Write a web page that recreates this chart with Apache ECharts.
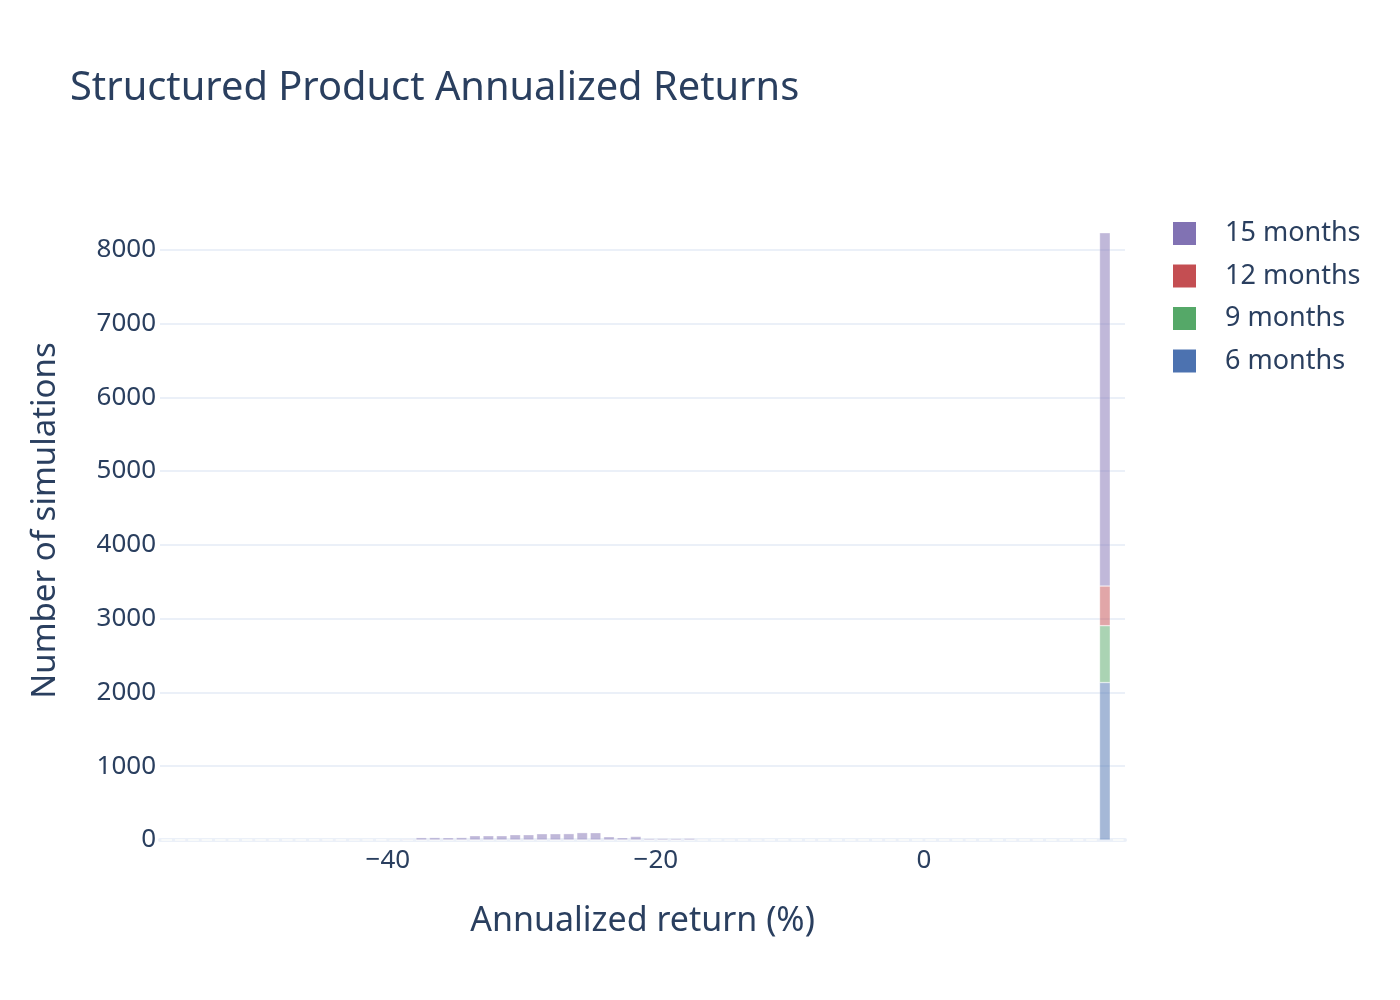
<!DOCTYPE html>
<html>
<head>
<meta charset="utf-8">
<title>Structured Product Annualized Returns</title>
<script src="https://cdn.jsdelivr.net/npm/echarts@6/dist/echarts.min.js"></script>
<style>
    html, body { margin: 0; padding: 0; background: #fff; }
    #main { width: 1400px; height: 1000px; }
</style>
</head>
<body>
<div id="main"></div>
<script>
// left edge of each 1% histogram bin (last bin, 14, is empty)
var binEdges = [
    -57, -56, -55, -54, -53, -52, -51, -50, -49, -48,
    -47, -46, -45, -44, -43, -42, -41, -40, -39, -38,
    -37, -36, -35, -34, -33, -32, -31, -30, -29, -28,
    -27, -26, -25, -24, -23, -22, -21, -20, -19, -18,
    -17, -16, -15, -14, -13, -12, -11, -10, -9, -8,
    -7, -6, -5, -4, -3, -2, -1, 0, 1, 2,
    3, 4, 5, 6, 7, 8, 9, 10, 11, 12,
    13, 14
];
var binWidth = 1;

// counts per bin, one list per product length
var months6 = [
    0, 0, 0, 0, 0, 0, 0, 0, 0, 0,
    0, 0, 0, 0, 0, 0, 0, 0, 0, 0,
    0, 0, 0, 0, 0, 0, 0, 0, 0, 0,
    0, 0, 0, 0, 0, 0, 0, 0, 0, 0,
    0, 0, 0, 0, 0, 0, 0, 0, 0, 0,
    0, 0, 0, 0, 0, 0, 0, 0, 0, 0,
    0, 0, 0, 0, 0, 0, 0, 0, 0, 0,
    2134, 0
];
var months9 = [
    0, 0, 0, 0, 0, 0, 0, 0, 0, 0,
    0, 0, 0, 0, 0, 0, 0, 0, 0, 0,
    0, 0, 0, 0, 0, 0, 0, 0, 0, 0,
    0, 0, 0, 0, 0, 0, 0, 0, 0, 0,
    0, 0, 0, 0, 0, 0, 0, 0, 0, 0,
    0, 0, 0, 0, 0, 0, 0, 0, 0, 0,
    0, 0, 0, 0, 0, 0, 0, 0, 0, 0,
    770, 0
];
var months12 = [
    0, 0, 0, 0, 0, 0, 0, 0, 0, 0,
    0, 0, 0, 0, 0, 0, 0, 0, 0, 0,
    0, 0, 0, 0, 0, 0, 0, 0, 0, 0,
    0, 0, 0, 0, 0, 0, 0, 0, 0, 0,
    0, 0, 0, 0, 0, 0, 0, 0, 0, 0,
    0, 0, 0, 0, 0, 0, 0, 0, 0, 0,
    0, 0, 0, 0, 0, 0, 0, 0, 0, 0,
    538, 0
];
var months15 = [
    0, 1, 0, 0, 0, 1, 0, 1, 1, 2,
    2, 3, 3, 4, 10, 9, 5, 11, 12, 32,
    33, 31, 33, 58, 58, 58, 72, 72, 85, 85,
    86, 100, 99, 45, 31, 48, 20, 21, 20, 22,
    10, 9, 10, 9, 10, 4, 8, 3, 2, 1,
    2, 1, 1, 2, 1, 1, 0, 1, 1, 0,
    1, 1, 0, 1, 1, 1, 0, 1, 1, 1,
    4787, 0
];

// x tick labels of the return axis
var xTicks = [-40, -20, 0];

var seriesNames = ['6 months', '9 months', '12 months', '15 months'];
var seriesColors = ['#4C72B0', '#55A868', '#C44E52', '#8172B3'];
var seriesCounts = [months6, months9, months12, months15];

var textColor = '#2a3f5f';
var gridColor = '#EBF0F8';
var font = 'Noto Sans';

var myChart = echarts.init(document.getElementById('main'));

// 每个区间一个类目, 类目名取区间中点
let binCenters = [];
for (let j = 0; j < binEdges.length; j++) {
    binCenters.push(String(binEdges[j] + binWidth / 2));
}

let series = [];
for (let i = 0; i < seriesNames.length; i++) {
    series.push({
        name: seriesNames[i],
        type: 'bar',
        stack: 'total',
        xAxisIndex: 0,
        barCategoryGap: '20%',
        color: seriesColors[i],
        itemStyle: {
            opacity: 0.5,
            borderColor: '#fff',
            borderWidth: 0.6
        },
        emphasis: {disabled: true},
        data: seriesCounts[i]
    });
}

myChart.setOption({
    animation: false,
    textStyle: {fontFamily: font, color: textColor},
    title: {
        text: 'Structured Product Annualized Returns',
        left: 65,
        top: 64,
        textStyle: {fontFamily: font, fontSize: 39.8, fontWeight: 'normal', color: textColor}
    },
    legend: {
        data: ['15 months', '12 months', '9 months', '6 months'],
        orient: 'vertical',
        left: 1168,
        top: 215,
        icon: 'rect',
        itemWidth: 23,
        itemHeight: 23,
        itemGap: 15.5,
        itemStyle: {opacity: 1, borderWidth: 0},
        textStyle: {
            fontFamily: font,
            fontSize: 27,
            color: textColor,
            padding: [0, 0, 0, 24]
        }
    },
    grid: {
        left: 160,
        right: 275,
        top: 201,
        bottom: 160,
        containLabel: false
    },
    xAxis: [
        {
            // 柱子用的类目轴, 只画零线
            type: 'category',
            data: binCenters,
            boundaryGap: true,
            axisLine: {show: true, lineStyle: {color: gridColor, width: 4}},
            axisTick: {show: false},
            axisLabel: {show: false},
            splitLine: {show: false}
        },
        {
            // 显示刻度的数值轴
            type: 'value',
            position: 'bottom',
            min: binEdges[0],
            max: binEdges[binEdges.length - 1] + binWidth,
            splitNumber: 3,
            name: 'Annualized return (%)',
            nameLocation: 'middle',
            nameGap: 64,
            nameTextStyle: {fontFamily: font, fontSize: 34, color: textColor},
            axisLine: {show: false},
            axisTick: {show: false},
            splitLine: {show: false},
            axisLabel: {
                fontFamily: font,
                fontSize: 26,
                color: textColor,
                margin: 8,
                showMinLabel: false,
                showMaxLabel: false,
                formatter: function (v) {
                    if (xTicks.indexOf(v) < 0) return '';
                    return v < 0 ? '\u2212' + (-v) : String(v);
                }
            }
        }
    ],
    yAxis: {
        type: 'value',
        min: 0,
        max: 8660,
        interval: 1000,
        name: 'Number of simulations',
        nameLocation: 'middle',
        nameRotate: 90,
        nameGap: 98,
        nameTextStyle: {fontFamily: font, fontSize: 33, color: textColor},
        axisLine: {show: false},
        axisTick: {show: false},
        splitLine: {show: true, showMaxLine: false, lineStyle: {color: gridColor, width: 2}},
        axisLabel: {
            fontFamily: font,
            fontSize: 26,
            color: textColor,
            margin: 4,
            showMaxLabel: false,
            formatter: function (v) {
                return String(v);
            }
        }
    },
    series: series
});
</script>
</body>
</html>
